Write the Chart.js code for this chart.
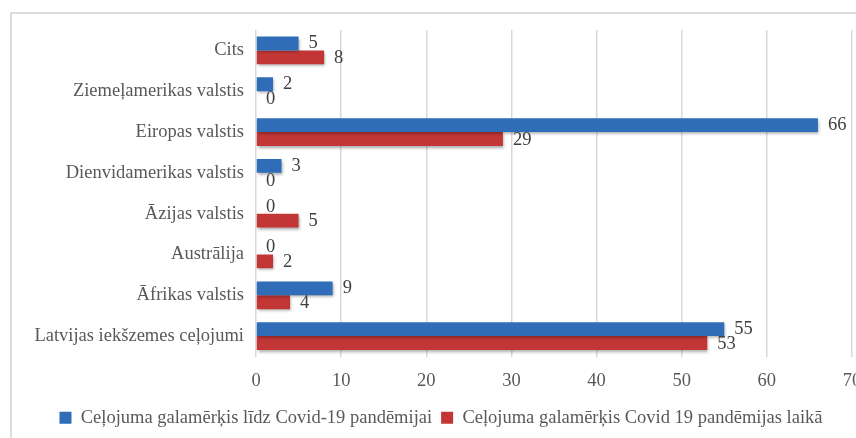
<!DOCTYPE html>
<html>
<head>
<meta charset="utf-8">
<script src="https://cdn.jsdelivr.net/npm/chart.js@4/dist/chart.umd.min.js"></script>
<style>
  html, body { margin: 0; padding: 0; background: #fff; overflow: hidden; }
  #frame { position: absolute; left: 10px; top: 12px; width: 900px; height: 500px; border: 2px solid #dedede; }
  #myChart { position: absolute; left: 0; top: 0; }
</style>
</head>
<body>
<div id="frame"></div>
<canvas id="myChart" width="880" height="438"></canvas>
<script>
// categories, top to bottom
let aCategories = [
  "Cits",
  "Ziemeļamerikas valstis",
  "Eiropas valstis",
  "Dienvidamerikas valstis",
  "Āzijas valstis",
  "Austrālija",
  "Āfrikas valstis",
  "Latvijas iekšzemes ceļojumi"
];

let aBefore = [5, 2, 66, 3, 0, 0, 9, 55];
let aDuring = [8, 0, 29, 0, 5, 2, 4, 53];

let sBeforeLabel = "Ceļojuma galamērķis līdz Covid-19 pandēmijai";
let sDuringLabel = "Ceļojuma galamērķis Covid 19 pandēmijas laikā";

let aTicks = [0, 10, 20, 30, 40, 50, 60, 70];

let sFont = "'Liberation Serif', 'Times New Roman', serif";

// shadow under bars + value labels at the bar ends
let barExtras = {
  id: "barExtras",
  beforeDatasetsDraw(chart) {
    let ctx = chart.ctx;
    ctx.save();
    ctx.shadowColor = "rgba(0,0,0,0.35)";
    ctx.shadowBlur = 3;
    ctx.shadowOffsetX = 1;
    ctx.shadowOffsetY = 2;
  },
  afterDatasetsDraw(chart) {
    let ctx = chart.ctx;
    ctx.restore();
    ctx.save();
    ctx.font = "18.5px " + sFont;
    ctx.fillStyle = "#404040";
    ctx.textAlign = "left";
    ctx.textBaseline = "middle";
    chart.data.datasets.forEach(function (ds, i) {
      let meta = chart.getDatasetMeta(i);
      meta.data.forEach(function (bar, j) {
        let dy = i === 0 ? 0 : 1;
        ctx.fillText(String(ds.data[j]), bar.x + 10, bar.y + dy);
      });
    });
    ctx.restore();
  }
};

let ctx = document.getElementById("myChart").getContext("2d");

let myChart = new Chart(ctx, {
  type: "bar",
  data: {
    labels: aCategories,
    datasets: [{
      label: sBeforeLabel,
      data: aBefore,
      backgroundColor: "#2f6db8",
      borderWidth: 0
    }, {
      label: sDuringLabel,
      data: aDuring,
      backgroundColor: "#c23636",
      borderWidth: 0
    }]
  },
  options: {
    responsive: false,
    animation: false,
    indexAxis: "y",
    categoryPercentage: 0.68,
    barPercentage: 1.0,
    layout: {
      padding: { top: 30, left: 30, right: 28, bottom: 1 }
    },
    scales: {
      x: {
        min: 0,
        max: 70,
        afterBuildTicks: function (scale) {
          scale.ticks = aTicks.map(v => ({ value: v }));
        },
        afterFit: function (scale) { scale.height = 43; },
        grid: { color: "#d9d9d9", lineWidth: 1.5, drawTicks: false },
        border: { display: false },
        ticks: {
          padding: 14,
          color: "#595959",
          font: { family: sFont, size: 18.5 }
        }
      },
      y: {
        afterFit: function (scale) { scale.width = 226; },
        grid: { display: false, drawTicks: false },
        border: { display: false },
        ticks: {
          padding: 12,
          color: "#595959",
          font: { family: sFont, size: 18.5 }
        }
      }
    },
    plugins: {
      legend: {
        position: "bottom",
        labels: {
          boxWidth: 12,
          boxHeight: 12,
          padding: 9,
          color: "#595959",
          font: { family: sFont, size: 18.5 }
        }
      },
      tooltip: { enabled: false }
    }
  },
  plugins: [barExtras]
});
</script>
</body>
</html>
